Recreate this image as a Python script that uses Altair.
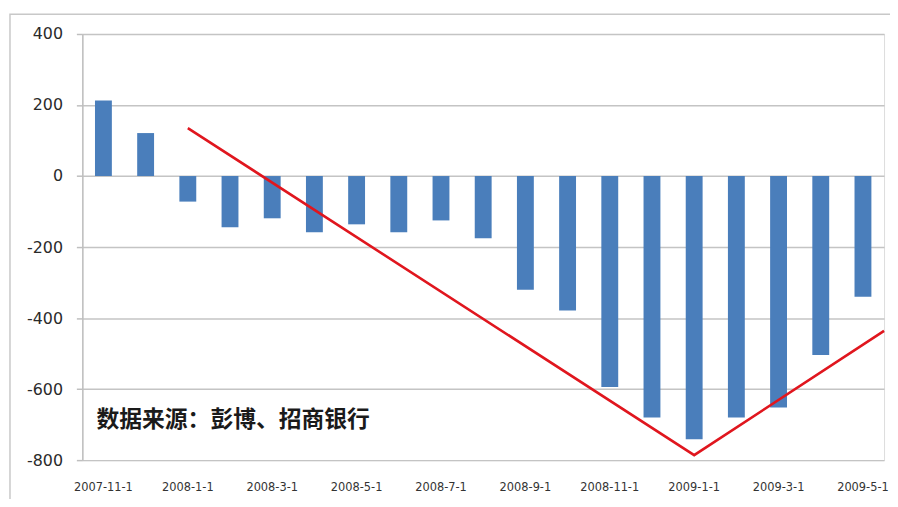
import altair as alt
import pandas as pd

months = ["2007-11-1", "2007-12-1", "2008-1-1", "2008-2-1", "2008-3-1", "2008-4-1",
          "2008-5-1", "2008-6-1", "2008-7-1", "2008-8-1", "2008-9-1", "2008-10-1",
          "2008-11-1", "2008-12-1", "2009-1-1", "2009-2-1", "2009-3-1", "2009-4-1",
          "2009-5-1"]
values = [213, 121, -72, -144, -119, -158, -136, -158, -125, -175, -320, -379,
          -594, -680, -741, -680, -652, -504, -340]
label_months = months[::2]
y_ticks = [-800, -600, -400, -200, 0, 200, 400]

# trend line anchors (month index, value)
trend_pos = [2, 14, 18.5]
trend_val = [135, -786, -436]

note_text = ["数据来源：彭博、招商银行"]
note_month = ["2007-11-1"]
note_val = [-686]

bars_df = pd.DataFrame({"month": months, "value": values})
trend_df = pd.DataFrame({"pos": trend_pos, "value": trend_val})
note_df = pd.DataFrame({"month": note_month, "value": note_val, "text": note_text})

y_scale = alt.Scale(domain=[-800, 400], nice=False, zero=False)
x_band = alt.Scale(domain=months, paddingInner=0.6, paddingOuter=0.3)

bars = alt.Chart(bars_df).mark_bar(color="#4a7ebb").encode(
    x=alt.X("month:N", sort=months, scale=x_band,
            axis=alt.Axis(values=label_months, title=None, labelAngle=0,
                          ticks=False, domain=False, grid=False,
                          labelFont="DejaVu Sans", labelFontSize=11.5,
                          labelColor="#333333", labelPadding=22,
                          labelOverlap=False)),
    y=alt.Y("value:Q", scale=y_scale,
            axis=alt.Axis(values=y_ticks, title=None, grid=True,
                          labelExpr="datum.value + ''",
                          gridColor="#c4c4c4", gridWidth=1.5,
                          domainColor="#bfbfbf", domainWidth=1.5,
                          tickColor="#bfbfbf", tickSize=6, tickWidth=1.5,
                          labelFont="DejaVu Sans", labelFontSize=16,
                          labelColor="#2a2a2a", labelPadding=14)),
)

note = alt.Chart(note_df).mark_text(
    align="left", baseline="middle", dx=-7, fontSize=23, fontWeight="bold",
    font="Noto Sans CJK SC", color="#1a1a1a"
).encode(
    x=alt.X("month:N", sort=months, scale=x_band),
    y=alt.Y("value:Q", scale=y_scale),
    text="text:N",
)

line = alt.Chart(trend_df).mark_line(color="#e0161e", strokeWidth=2.6).encode(
    x=alt.X("pos:Q", scale=alt.Scale(domain=[-0.5, 18.5], nice=False, zero=False),
            axis=None),
    y=alt.Y("value:Q", scale=y_scale),
)

frame = alt.Chart(pd.DataFrame({"k": [0]})).mark_rect(
    fill=None, stroke="#c8c8c8", strokeWidth=1.5
).encode(
    x=alt.value(-73), x2=alt.value(840), y=alt.value(-20), y2=alt.value(473)
)

chart = alt.layer(alt.layer(bars, note), line, frame).resolve_scale(
    x="independent"
).properties(
    width=809, height=430,
    padding={"left": 75, "top": 24, "right": 6, "bottom": 37},
    autosize="none",
).configure_view(stroke=None).configure(background="white")

chart.save("out.html", embed_options={"renderer": "svg", "actions": False})
